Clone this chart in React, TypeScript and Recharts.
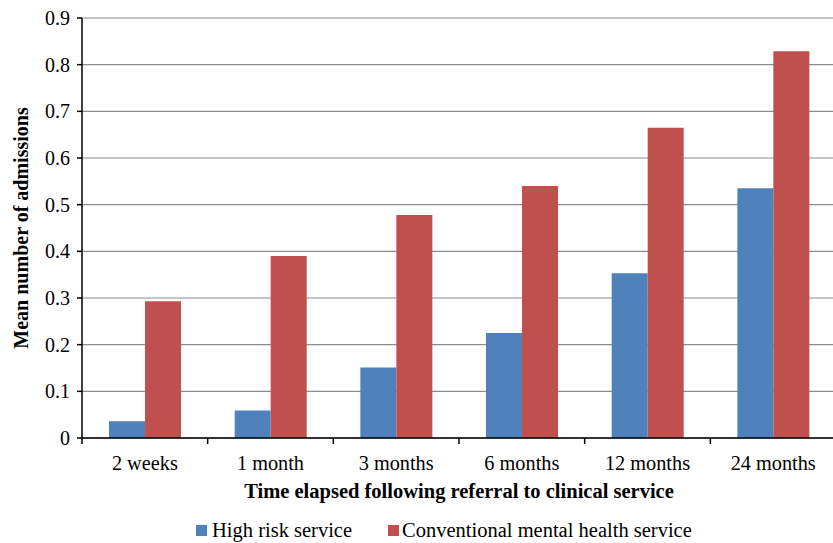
import { BarChart, Bar, XAxis, YAxis, CartesianGrid, Legend } from 'recharts'

const periods = ['2 weeks', '1 month', '3 months', '6 months', '12 months', '24 months']
const highRisk = [0.036, 0.059, 0.151, 0.225, 0.353, 0.535]
const conventional = [0.293, 0.39, 0.478, 0.54, 0.665, 0.829]
const yTicks = [0, 0.1, 0.2, 0.3, 0.4, 0.5, 0.6, 0.7, 0.8, 0.9]

const data = periods.map((p, i) => ({ period: p, high: highRisk[i], conv: conventional[i] }))

const FONT = '"Liberation Serif", "Times New Roman", serif'
const BLUE = '#4F81BD'
const RED = '#C0504D'

const PeriodTick = (props: any) => {
  const { x, y, payload, index } = props
  const half = payload?.offset ?? 62.75
  const axisY = y - 18
  return (
    <g>
      <line x1={x - half} y1={axisY} x2={x - half} y2={axisY + 6} stroke="#000" strokeWidth={1.5} />
      {index === periods.length - 1 && (
        <line x1={x + half} y1={axisY} x2={x + half} y2={axisY + 6} stroke="#000" strokeWidth={1.5} />
      )}
      <text x={x} y={y} dy="0.71em" textAnchor="middle" fontFamily={FONT} fontSize={20.3} fill="#000">
        {payload.value}
      </text>
    </g>
  )
}

const LegendBox = () => (
  <div style={{ display: 'flex', alignItems: 'center', fontFamily: FONT, fontSize: 20.5, color: '#000', height: 26 }}>
    <span style={{ width: 11, height: 11, background: BLUE, display: 'inline-block', marginRight: 5 }} />
    <span>High risk service</span>
    <span style={{ width: 11, height: 11, background: RED, display: 'inline-block', marginLeft: 36, marginRight: 3 }} />
    <span>Conventional mental health service</span>
  </div>
)

export default function App() {
  return (
    <div style={{ position: 'absolute', left: 0, top: 0, width: 833, height: 543, overflow: 'hidden', background: '#fff' }}>
      <BarChart
        width={836}
        height={543}
        data={data}
        margin={{ top: 18, right: 0, left: 0, bottom: 0 }}
        barCategoryGap="21.5%"
        barGap={0}
      >
        <CartesianGrid vertical={false} stroke="#8c8c8c" strokeWidth={1.2} />
        <XAxis
          dataKey="period"
          height={79}
          tickLine={false}
          tickSize={6}
          tickMargin={12}
          axisLine={{ stroke: '#000', strokeWidth: 1.5 }}
          tick={<PeriodTick />}
          interval={0}
          label={{
            value: 'Time elapsed following referral to clinical service',
            position: 'insideBottom',
            offset: 19,
            style: { fontFamily: FONT, fontSize: 20.5, fontWeight: 'bold', fill: '#000' },
          }}
        />
        <YAxis
          width={82}
          domain={[0, 0.9]}
          ticks={yTicks}
          interval={0}
          tickSize={5}
          tickMargin={7}
          tickFormatter={(v: number) => (v === 0 ? '0' : v.toFixed(1))}
          tick={{ fontFamily: FONT, fontSize: 20, fill: '#000' }}
          tickLine={{ stroke: '#000', strokeWidth: 1.5 }}
          axisLine={{ stroke: '#000', strokeWidth: 1.5 }}
          label={{
            value: 'Mean number of admissions',
            angle: -90,
            position: 'insideLeft',
            offset: 21,
            style: { textAnchor: 'middle', fontFamily: FONT, fontSize: 20, fontWeight: 'bold', fill: '#000' },
          }}
        />
        <Legend verticalAlign="bottom" content={<LegendBox />} wrapperStyle={{ left: 196, width: 'auto', bottom: 0 }} />
        <Bar dataKey="high" name="High risk service" fill={BLUE} isAnimationActive={false} />
        <Bar dataKey="conv" name="Conventional mental health service" fill={RED} isAnimationActive={false} />
      </BarChart>
    </div>
  )
}
